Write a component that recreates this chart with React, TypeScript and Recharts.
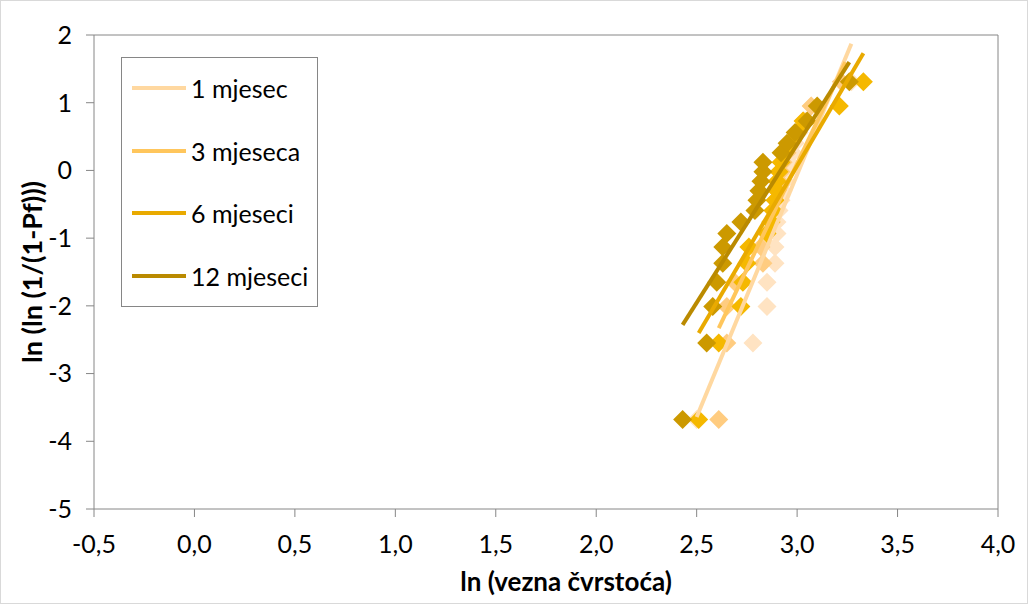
import { ScatterChart, Scatter, XAxis, YAxis, Legend, ReferenceLine } from "recharts";

// Weibull plotting positions ln(ln(1/(1-Pf))), 20 specimens per group
const weibullY = [
  -3.68, -2.55, -2.01, -1.65, -1.37, -1.13, -0.93, -0.76, -0.59, -0.44,
  -0.3, -0.16, -0.02, 0.12, 0.26, 0.4, 0.56, 0.73, 0.95, 1.31,
];

// ln (vezna čvrstoća) per group, sorted
const x1mjesec = [
  2.5, 2.78, 2.85, 2.85, 2.89, 2.89, 2.9, 2.9, 2.91, 2.92,
  2.93, 2.94, 2.95, 2.96, 2.98, 2.99, 3.01, 3.04, 3.07, 3.27,
];
const x3mjeseca = [
  2.61, 2.65, 2.65, 2.69, 2.83, 2.82, 2.85, 2.87, 2.88, 2.89,
  2.9, 2.91, 2.92, 2.93, 2.95, 2.97, 3.0, 3.03, 3.07, 3.22,
];
const x6mjeseci = [
  2.51, 2.61, 2.72, 2.73, 2.75, 2.76, 2.85, 2.87, 2.88, 2.89,
  2.9, 2.9, 2.91, 2.92, 2.93, 2.96, 3.0, 3.03, 3.21, 3.33,
];
const x12mjeseci = [
  2.43, 2.55, 2.58, 2.6, 2.63, 2.63, 2.65, 2.72, 2.79, 2.8,
  2.81, 2.82, 2.83, 2.83, 2.92, 2.95, 2.99, 3.05, 3.1, 3.26,
];

// linear trendlines (start / end)
const trendX1 = [2.5, 3.27];
const trendY1 = [-3.64, 1.87];
const trendX3 = [2.61, 3.24];
const trendY3 = [-2.33, 1.6];
const trendX6 = [2.51, 3.33];
const trendY6 = [-2.4, 1.73];
const trendX12 = [2.43, 3.26];
const trendY12 = [-2.28, 1.6];

const xTicks = [-0.5, 0, 0.5, 1, 1.5, 2, 2.5, 3, 3.5, 4];
const yTicks = [-5, -4, -3, -2, -1, 0, 1, 2];

const series = [
  { name: "1 mjesec", xs: x1mjesec, tx: trendX1, ty: trendY1, marker: "#FFE3C2", line: "#FFD8A0" },
  { name: "3 mjeseca", xs: x3mjeseca, tx: trendX3, ty: trendY3, marker: "#FFCC80", line: "#FFC65C" },
  { name: "6 mjeseci", xs: x6mjeseci, tx: trendX6, ty: trendY6, marker: "#F5B800", line: "#E9AA00" },
  { name: "12 mjeseci", xs: x12mjeseci, tx: trendX12, ty: trendY12, marker: "#CC9900", line: "#BA8A00" },
];

const axisColor = "#868686";
const font = "Lato, 'Open Sans', sans-serif";

const toPoints = (xs: number[], ys: number[]) => xs.map((x, i) => ({ x, y: ys[i] }));

const Diamond = (props: any) => {
  const { cx, cy, fill } = props;
  const r = 9.5;
  return (
    <polygon
      points={`${cx},${cy - r} ${cx + r},${cy} ${cx},${cy + r} ${cx - r},${cy}`}
      fill={fill}
    />
  );
};

const NoMarker = () => <g />;

const LegendBox = () => (
  <div
    style={{
      position: "relative",
      width: 197,
      height: 250,
      border: `1px solid ${axisColor}`,
      background: "#fff",
      boxSizing: "border-box",
      fontFamily: font,
      fontSize: 25,
      color: "#000",
    }}
  >
    {series.map((s, i) => (
      <div
        key={s.name}
        style={{
          position: "absolute",
          left: 10,
          top: 30 + i * 62.7 - 15,
          height: 30,
          display: "flex",
          alignItems: "center",
          whiteSpace: "nowrap",
        }}
      >
        <div style={{ width: 54, height: 4, background: s.line, marginRight: 5 }} />
        <span>{s.name}</span>
      </div>
    ))}
  </div>
);

export default function App() {
  return (
    <div
      style={{
        position: "absolute",
        left: 0,
        top: 0,
        width: 1028,
        height: 604,
        border: "1px solid #D9D9D9",
        boxSizing: "border-box",
        background: "#fff",
        fontFamily: font,
      }}
    >
      <ScatterChart
        width={1026}
        height={602}
        margin={{ top: 34, right: 29, bottom: 4, left: 29 }}
      >
        <XAxis
          type="number"
          dataKey="x"
          domain={[-0.5, 4]}
          ticks={xTicks}
          tickFormatter={(v: number) => v.toFixed(1).replace(".", ",")}
          interval={0}
          height={90}
          stroke={axisColor}
          tickSize={8}
          tickMargin={18}
          tick={{ fill: "#000", fontSize: 25 }}
          label={{
            value: "ln (vezna čvrstoća)",
            position: "insideBottom",
            offset: 8,
            dx: 20,
            style: { fontWeight: 700, fontSize: 26, fill: "#000" },
          }}
        />
        <YAxis
          type="number"
          dataKey="y"
          domain={[-5, 2]}
          ticks={yTicks}
          interval={0}
          width={64}
          stroke={axisColor}
          tickSize={8}
          tickMargin={14}
          tick={{ fill: "#000", fontSize: 25 }}
          label={{
            value: "ln (ln (1/(1-Pf)))",
            angle: -90,
            position: "insideLeft",
            offset: 10,
            dx: -8,
            style: { fontWeight: 700, fontSize: 27, fill: "#000", textAnchor: "middle" },
          }}
        />
        <ReferenceLine y={2} stroke={axisColor} />
        <ReferenceLine x={4} stroke={axisColor} />
        {series.map((s) => (
          <Scatter
            key={`m-${s.name}`}
            name={s.name}
            data={toPoints(s.xs, weibullY)}
            fill={s.marker}
            shape={Diamond}
            legendType="none"
            isAnimationActive={false}
          />
        ))}
        {series.map((s) => (
          <Scatter
            key={`t-${s.name}`}
            name={`${s.name} trend`}
            data={toPoints(s.tx, s.ty)}
            fill={s.line}
            line={{ stroke: s.line, strokeWidth: 4 }}
            shape={NoMarker}
            legendType="none"
            isAnimationActive={false}
          />
        ))}
        <Legend
          layout="vertical"
          align="center"
          verticalAlign="middle"
          content={LegendBox}
          wrapperStyle={{ left: 120, top: 56, width: 197, height: 250 }}
        />
      </ScatterChart>
    </div>
  );
}
